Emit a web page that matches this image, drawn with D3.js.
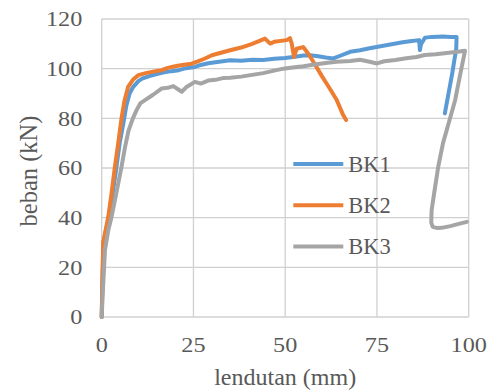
<!DOCTYPE html>
<html>
<head>
<meta charset="utf-8">
<script src="https://cdn.jsdelivr.net/npm/d3@7"></script>
<style>
	body { margin: 0; background: #fff; }
	text { font-family: "Liberation Serif", "Times New Roman", serif; fill: #595959; }
</style>
</head>
<body>
<div id="chart"></div>
<script>

// load-deflection readings [lendutan (mm), beban (kN)]
const bk1 = [[0,0],[0.2,15],[0.5,30],[2.2,42],[3.8,58],[4.9,70],[5.9,78],[6.7,85],[7.6,90],[8.6,92.7],[10,95],
	[11,96],[13,97],[15,97.8],[17,98.5],[19,99],[21,99.4],[23,100.2],[25.4,100.7],[27,101.5],[29,102.2],[31,102.6],
	[33,103],[35,103.4],[38,103.2],[41,103.6],[44,103.5],[47,104],[50,104.3],[52.2,104.7],[55,105.3],[56.8,105.4],
	[59,105],[61,104.5],[63.1,104.1],[65,105.2],[67.7,106.8],[70.4,107.4],[73,108.2],[76,109],[79,109.8],[82,110.6],
	[84,111],[86.5,111.5],[86.7,107.5],[87,109.8],[88.1,112.5],[90,112.8],[93,113],[95,112.8],[96.7,112.8],
	[96.6,108],[95.5,98],[94.5,90],[93.5,82]];

const bk2 = [[0,0],[0.1,8],[0.4,30],[1.8,40.4],[2.7,50],[3.6,60.5],[4.5,70],[5.4,80],[6.2,87],[7.2,92.7],[8.5,95.5],
	[10,97.4],[12,98.2],[14,98.8],[16.3,99.4],[18,100.3],[20,101],[22,101.5],[24.5,102],[26,102.8],[28,104],[30,105.4],
	[32,106.2],[35,107.4],[38,108.5],[41,110],[44.5,112.1],[45.9,110.1],[47,110.8],[50.4,111.5],[51.3,112.3],[51.8,110],
	[52.4,104.7],[53.1,108],[54.9,108.7],[56.3,106],[58,102],[60,97],[62,92.3],[64,87.5],[65.8,81.3],[66.6,79.3]];

const bk3 = [[0,0],[0.3,10],[0.9,27],[1.8,35],[2.7,40.4],[4,50],[5.4,60.5],[6.3,68],[7.3,75],[8.5,80],[9.5,83.3],
	[10.5,86],[12,87.5],[14,89.5],[16.3,92],[18,92.3],[19.5,93],[21,91.5],[21.8,90.7],[23,92.5],[25.4,94.7],[27,94],
	[29,95.2],[31,95.5],[33,96.2],[35,96.3],[38,96.8],[41,97.5],[44,98.2],[47,99.2],[49.5,100],[52,100.5],[55,101],
	[58,101.7],[61,102.3],[64,102.8],[67.7,103.1],[70.4,103.6],[73,102.8],[75,102.1],[77,103],[80,103.5],[83,104.2],
	[85.8,104.7],[88,105.5],[91,105.8],[94,106.3],[97,106.8],[99,107.2],[98,100],[96.3,87.3],[94.4,77.3],[93,70],
	[91.7,60.5],[90.6,50],[89.9,43],[89.8,38],[90.2,36.3],[91.5,35.8],[92.6,35.9],[95,36.6],[97,37.4],[99.5,38.3]];

const seriesNames = ["BK1", "BK2", "BK3"];
const seriesColors = ["#5b9bd5", "#ed7d31", "#a5a5a5"];
const xTicks = [0, 25, 50, 75, 100];
const yTicks = [0, 20, 40, 60, 80, 100, 120];

const width = 489, height = 391;
const margin = {top: 19, right: 20.3, bottom: 74, left: 101.7};

const svg = d3.select('#chart').append('svg')
	.attr('width', width)
	.attr('height', height);

const x = d3.scaleLinear().domain([0, 100]).range([margin.left, width - margin.right]);
const y = d3.scaleLinear().domain([0, 120]).range([height - margin.bottom, margin.top]);

// gridlines
svg.append('g').selectAll('line').data(yTicks).enter().append('line')
	.attr('x1', x(0)).attr('x2', x(100))
	.attr('y1', d => y(d)).attr('y2', d => y(d))
	.attr('stroke', '#d0d0d0').attr('stroke-width', 1.3);
svg.append('g').selectAll('line').data(xTicks).enter().append('line')
	.attr('y1', y(0)).attr('y2', y(120))
	.attr('x1', d => x(d)).attr('x2', d => x(d))
	.attr('stroke', '#d0d0d0').attr('stroke-width', 1.3);

// tick labels (a bit wider than plain Times)
svg.append('g').selectAll('text').data(yTicks).enter().append('text')
	.attr('transform', d => 'translate(82.3,' + (y(d) + 7.4) + ') scale(1.1,1)')
	.attr('text-anchor', 'end')
	.style('font-size', '22px')
	.text(d => d);
svg.append('g').selectAll('text').data(xTicks).enter().append('text')
	.attr('transform', d => 'translate(' + x(d) + ',' + (y(0) + 35) + ') scale(1.1,1)')
	.attr('text-anchor', 'middle')
	.style('font-size', '22px')
	.text(d => d);

// axis titles
svg.append('text')
	.attr('x', (x(0) + x(100)) / 2).attr('y', 385)
	.attr('text-anchor', 'middle')
	.style('font-size', '24px')
	.text('lendutan (mm)');
svg.append('text')
	.attr('transform', 'translate(36.5,171) rotate(-90)')
	.attr('text-anchor', 'middle')
	.style('font-size', '24.5px')
	.text('beban (kN)');

// series
const line = d3.line().x(d => x(d[0])).y(d => y(d[1]));
[bk1, bk2, bk3].forEach((data, i) => {
	svg.append('path')
		.datum(data)
		.attr('d', line)
		.attr('fill', 'none')
		.attr('stroke', seriesColors[i])
		.attr('stroke-width', 4)
		.attr('stroke-linejoin', 'round')
		.attr('stroke-linecap', 'round');
});

// legend
const legend = svg.append('g').attr('transform', 'translate(293.3,164)');
seriesNames.forEach((name, i) => {
	const row = legend.append('g').attr('transform', 'translate(0,' + (i * 41.3) + ')');
	row.append('line')
		.attr('x1', 0).attr('x2', 50)
		.attr('stroke', seriesColors[i]).attr('stroke-width', 4);
	row.append('text')
		.attr('x', 55).attr('y', 7.7)
		.style('font-size', '22.5px')
		.text(name);
});

</script>
</body>
</html>
